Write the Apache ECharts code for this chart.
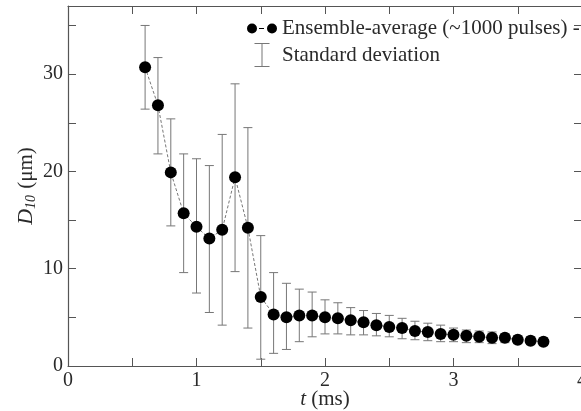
<!DOCTYPE html>
<html>
<head>
<meta charset="utf-8">
<script src="https://cdn.jsdelivr.net/npm/echarts@6/dist/echarts.min.js"></script>
<style>
  html, body { margin: 0; padding: 0; background: #fff; }
  #chart { width: 581px; height: 411px; }
</style>
</head>
<body>
<div id="chart"></div>
<script>
// time (ms)
const times = [0.6, 0.7, 0.8, 0.9, 1.0, 1.1, 1.2, 1.3, 1.4, 1.5, 1.6, 1.7, 1.8, 1.9, 2.0, 2.1,
  2.2, 2.3, 2.4, 2.5, 2.6, 2.7, 2.8, 2.9, 3.0, 3.1, 3.2, 3.3, 3.4, 3.5, 3.6, 3.7];
// ensemble-average D10 (um)
const meanD10 = [30.7, 26.8, 19.9, 15.7, 14.3, 13.1, 14.0, 19.4, 14.2, 7.1, 5.3, 5.0, 5.2, 5.2, 5.0, 4.9,
  4.7, 4.5, 4.2, 4.0, 3.9, 3.6, 3.5, 3.3, 3.2, 3.1, 3.0, 2.9, 2.9, 2.7, 2.6, 2.5];
// error bar ends (mean -/+ standard deviation)
const lowD10 = [26.4, 21.8, 14.4, 9.6, 7.5, 5.5, 4.2, 9.7, 3.9, 0.7, 1.3, 1.7, 2.5, 3.0, 3.3, 3.3,
  3.2, 3.2, 3.1, 3.0, 2.8, 2.7, 2.6, 2.5, 2.5, 2.4, 2.4, 2.3, 2.4, 2.3, 2.2, 2.1];
const highD10 = [35.0, 31.7, 25.4, 21.8, 21.3, 20.6, 23.8, 29.0, 24.5, 13.4, 9.6, 8.5, 7.9, 7.6, 6.8, 6.5,
  6.0, 5.7, 5.4, 5.2, 4.9, 4.6, 4.4, 4.2, 3.9, 3.7, 3.6, 3.5, 3.3, 3.1, 3.0, 2.9];

const meanName = 'Ensemble-average (~1000 pulses) -';
const stdName = 'Standard deviation';
const serif = "'Liberation Serif', 'DejaVu Serif', serif";
const axisColor = '#555';
const textColor = '#2a2a2a';

const chart = echarts.init(document.getElementById('chart'));

const tickInside = {show: true, inside: true, length: 8, lineStyle: {color: axisColor}};
const frameLine = {show: true, onZero: false, lineStyle: {color: axisColor, width: 1.2}};

const option = {
  animation: false,
  backgroundColor: '#fff',
  textStyle: {fontFamily: serif},
  grid: {left: 68, top: 6, width: 514, bottom: 45, containLabel: false, outerBoundsMode: 'none'},
  legend: {
    orient: 'vertical',
    left: 242,
    top: 13,
    itemWidth: 30,
    itemHeight: 24,
    itemGap: 4,
    textStyle: {fontFamily: serif, fontSize: 21, color: textColor},
    data: [
      {
        name: meanName,
        icon: 'path://M0,5a5,5 0 1,0 10,0a5,5 0 1,0 -10,0z M20,5a5,5 0 1,0 10,0a5,5 0 1,0 -10,0z M12,4.5h5v1h-5z'
      },
      {
        name: stdName,
        icon: 'path://M0,0h15v1h-15z M7,0h1v24h-1z M0,23h15v1h-15z'
      }
    ]
  },
  xAxis: [
    {
      type: 'value', min: 0, max: 4, interval: 0.5,
      name: '{i|t} (ms)',
      nameLocation: 'middle', nameGap: 23, nameMoveOverlap: false,
      nameTextStyle: {
        fontFamily: serif, fontSize: 21, color: textColor,
        rich: {i: {fontFamily: serif, fontSize: 21, fontStyle: 'italic', color: textColor}}
      },
      axisLine: frameLine,
      axisTick: tickInside,
      axisLabel: {
        fontFamily: serif, fontSize: 20, color: textColor, margin: 5,
        formatter: v => (Number.isInteger(v) ? String(v) : '')
      },
      splitLine: {show: false}
    },
    {
      type: 'value', position: 'top', min: 0, max: 4, interval: 0.5,
      axisLine: frameLine,
      axisTick: tickInside,
      axisLabel: {show: false},
      splitLine: {show: false}
    }
  ],
  yAxis: [
    {
      type: 'value', min: 0, max: 37, interval: 5,
      name: '{i|D}{sub|10} (μm)',
      nameLocation: 'middle', nameGap: 30, nameRotate: 90, nameMoveOverlap: false,
      nameTextStyle: {
        fontFamily: serif, fontSize: 21, color: textColor,
        rich: {
          i: {fontFamily: serif, fontSize: 22, fontStyle: 'italic', color: textColor},
          sub: {fontFamily: serif, fontSize: 14, fontStyle: 'italic', color: textColor, verticalAlign: 'bottom', padding: [9, 1, 0, 0]}
        }
      },
      axisLine: frameLine,
      axisTick: tickInside,
      axisLabel: {
        fontFamily: serif, fontSize: 20, color: textColor, margin: 5,
        showMaxLabel: false,
        formatter: v => (v % 10 === 0 ? String(v) : '')
      },
      splitLine: {show: false}
    },
    {
      type: 'value', position: 'right', min: 0, max: 37, interval: 5,
      axisLine: frameLine,
      axisTick: tickInside,
      axisLabel: {show: false},
      splitLine: {show: false}
    }
  ],
  series: [
    {
      name: stdName,
      type: 'custom',
      itemStyle: {color: '#777'},
      data: times.map((t, i) => [t, lowD10[i], highD10[i]]),
      encode: {x: 0, y: [1, 2]},
      renderItem: (params, api) => {
        const lo = api.coord([api.value(0), api.value(1)]);
        const hi = api.coord([api.value(0), api.value(2)]);
        const w = 4.5;
        const style = {stroke: '#777', lineWidth: 1};
        return {
          type: 'group',
          children: [
            {type: 'line', shape: {x1: lo[0], y1: lo[1], x2: hi[0], y2: hi[1]}, style},
            {type: 'line', shape: {x1: hi[0] - w, y1: hi[1], x2: hi[0] + w, y2: hi[1]}, style},
            {type: 'line', shape: {x1: lo[0] - w, y1: lo[1], x2: lo[0] + w, y2: lo[1]}, style}
          ]
        };
      },
      z: 1
    },
    {
      name: meanName,
      type: 'line',
      data: times.map((t, i) => [t, meanD10[i]]),
      symbol: 'circle',
      symbolSize: 12,
      itemStyle: {color: '#000'},
      lineStyle: {color: '#777', width: 1, type: [3, 2]},
      z: 2
    }
  ]
};

chart.setOption(option);
</script>
</body>
</html>
